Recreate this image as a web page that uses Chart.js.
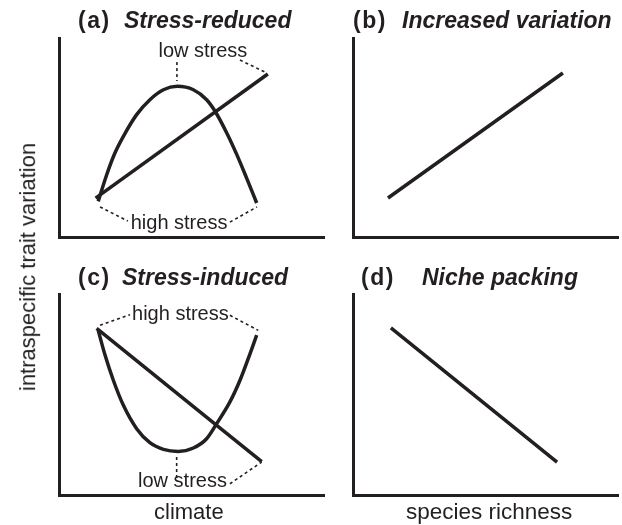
<!DOCTYPE html>
<html>
<head>
<meta charset="utf-8">
<script src="https://cdn.jsdelivr.net/npm/chart.js"></script>
<style>
  html, body { margin: 0; padding: 0; background: #fff; }
  #page { position: relative; width: 622px; height: 525px; overflow: hidden; font-family: "Liberation Sans", Arial, Helvetica, sans-serif; color: #231f20; }
  #page canvas { position: absolute; left: 0; top: 0; }
  .title { position: absolute; font-size: 23px; font-weight: bold; white-space: nowrap; line-height: 1; }
  .title.tag { letter-spacing: 1.5px; }
  .axis-title { position: absolute; font-size: 22px; white-space: nowrap; line-height: 1; }
</style>
</head>
<body>
<div id="page">
  <canvas id="panel-a" width="622" height="525"></canvas>
  <canvas id="panel-b" width="622" height="525"></canvas>
  <canvas id="panel-c" width="622" height="525"></canvas>
  <canvas id="panel-d" width="622" height="525"></canvas>

  <div class="title tag" style="left:78px; top:9px;">(a)</div>
  <div class="title" style="left:124px; top:9px;"><i>Stress-reduced</i></div>
  <div class="title tag" style="left:353px; top:9px;">(b)</div>
  <div class="title" style="left:402px; top:9px;"><i>Increased variation</i></div>
  <div class="title tag" style="left:78px; top:266px;">(c)</div>
  <div class="title" style="left:122px; top:266px;"><i>Stress-induced</i></div>
  <div class="title tag" style="left:361px; top:266px;">(d)</div>
  <div class="title" style="left:422px; top:266px;"><i>Niche packing</i></div>

  <div class="axis-title" id="y-title">intraspecific trait variation</div>
  <div class="axis-title" style="left:154px; top:501px;">climate</div>
  <div class="axis-title" style="left:406px; top:501px; font-size:22.5px;">species richness</div>
</div>

<script>
// --- Data (axes run 0..100 in every panel) ---

// (a) Stress-reduced: hump curve + rising line
const aCurveX = [14.8, 18.0, 21.1, 24.3, 29.3, 34.3, 39.4, 44.6, 50.7, 55.7, 58.9, 63.3, 67.1, 70.8, 74.6];
const aCurveY = [17.9, 31.3, 42.2, 50.6, 61.5, 69.0, 74.0, 75.7, 74.0, 69.0, 63.2, 52.3, 41.4, 29.6, 17.1];
const aLineX = [13.8, 78.8];
const aLineY = [19.5, 81.9];

// (b) Increased variation
const bLineX = [13.2, 79.2];
const bLineY = [19.6, 82.4];

// (c) Stress-induced: U curve + falling line
const cCurveX = [14.8, 17.4, 20.5, 24.3, 29.3, 34.3, 39.4, 45.0, 50.7, 55.7, 59.5, 64.5, 68.3, 71.4, 74.6];
const cCurveY = [81.9, 69.5, 57.1, 44.6, 33.0, 26.0, 22.7, 21.7, 23.4, 28.0, 35.5, 46.3, 57.1, 67.8, 79.5];
const cLineX = [14.2, 76.5];
const cLineY = [82.9, 16.6];

// (d) Niche packing
const dLineX = [14.3, 77.0];
const dLineY = [83.1, 16.4];

// dotted guides: [x1, y1, x2, y2]
const aGuides = [
    [44.5, 87.9, 44.5, 78.4],
    [68.3, 88.9, 78.5, 82.4],
    [15.5, 15.1, 26.0, 8.0],
    [64.5, 7.5, 74.7, 15.1]
];
const cGuides = [
    [15.5, 84.4, 26.8, 89.7],
    [64.5, 89.4, 75.2, 81.9],
    [44.4, 18.9, 44.4, 8.1],
    [64.5, 5.6, 76.5, 16.4]
];

// guide labels
const aLabelText = ['low stress', 'high stress'];
const aLabelX = [54.3, 45.3];
const aLabelY = [93.0, 7.0];
const cLabelText = ['high stress', 'low stress'];
const cLabelX = [45.8, 46.6];
const cLabelY = [89.7, 6.5];

// --- Styles ---
const INK = '#231f20';
const FONT = '"Liberation Sans", Arial, Helvetica, sans-serif';

// --- Helpers ---

const toPoints = (xs, ys) => xs.map((x, i) => ({ x: x, y: ys[i] }));

const solid = (xs, ys) => ({
    data: toPoints(xs, ys),
    showLine: true,
    borderColor: INK,
    borderWidth: 3.5,
    pointRadius: 0,
    cubicInterpolationMode: 'monotone',
    clip: false
});

const dotted = (g) => ({
    data: [{ x: g[0], y: g[1] }, { x: g[2], y: g[3] }],
    showLine: true,
    borderColor: INK,
    borderWidth: 1.6,
    borderDash: [3, 3],
    pointRadius: 0,
    clip: false
});

// draws the small text labels at data positions
const guideLabels = {
    id: 'guideLabels',
    afterDatasetsDraw(chart, args, opts) {
        if (!opts.text) return;
        const ctx = chart.ctx;
        ctx.save();
        ctx.fillStyle = INK;
        ctx.font = '20px ' + FONT;
        ctx.textAlign = 'center';
        ctx.textBaseline = 'middle';
        opts.text.forEach((t, i) => {
            const px = chart.scales.x.getPixelForValue(opts.xs[i]);
            const py = chart.scales.y.getPixelForValue(opts.ys[i]);
            ctx.fillText(t, px, py);
        });
        ctx.restore();
    }
};

const axis = () => ({
    type: 'linear',
    min: 0,
    max: 100,
    ticks: { display: false },
    grid: { display: false, drawTicks: false },
    border: { display: true, color: INK, width: 3 }
});

function makePanel(id, padding, datasets, labels) {
    return new Chart(document.getElementById(id), {
        type: 'scatter',
        data: { datasets: datasets },
        options: {
            responsive: false,
            animation: false,
            events: [],
            layout: { padding: padding, autoPadding: false },
            scales: { x: axis(), y: axis() },
            plugins: {
                legend: { display: false },
                tooltip: { enabled: false },
                guideLabels: labels || {}
            }
        },
        plugins: [guideLabels]
    });
}

// --- Panels ---

makePanel('panel-a', { left: 59, top: 38, right: 298, bottom: 288 },
    [solid(aCurveX, aCurveY), solid(aLineX, aLineY)].concat(aGuides.map(dotted)),
    { text: aLabelText, xs: aLabelX, ys: aLabelY });

makePanel('panel-b', { left: 353, top: 38, right: 4, bottom: 288 },
    [solid(bLineX, bLineY)]);

makePanel('panel-c', { left: 59, top: 294, right: 298, bottom: 30 },
    [solid(cCurveX, cCurveY), solid(cLineX, cLineY)].concat(cGuides.map(dotted)),
    { text: cLabelText, xs: cLabelX, ys: cLabelY });

makePanel('panel-d', { left: 353, top: 294, right: 4, bottom: 30 },
    [solid(dLineX, dLineY)]);

// rotated y title, centred on x=28, y=267
const yTitle = document.getElementById('y-title');
const w = yTitle.offsetWidth, h = yTitle.offsetHeight;
yTitle.style.left = (28 - w / 2) + 'px';
yTitle.style.top = (267 - h / 2) + 'px';
yTitle.style.transform = 'rotate(-90deg)';
</script>
</body>
</html>
